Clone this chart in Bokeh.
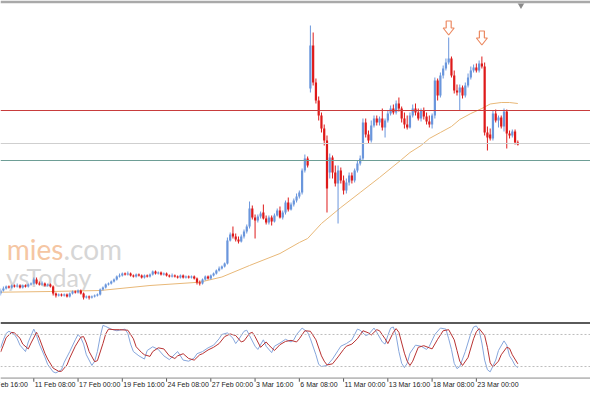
from bokeh.plotting import figure
from bokeh.models import Range1d, Span, ColumnDataSource
from bokeh.layouts import column
from bokeh.core.properties import value
from bokeh.embed import file_html
from bokeh.resources import INLINE

# ---------------- data (H4 candles, arbitrary price units) ----------------
open_ = [107,110,112,114,113,115,114,115,113,115,114,116,117,121,117,116,117,115,116,114,
         107,105,106,105,106,104,107,109,108,110,107,103,104,103,104,105,106,111,113,116,
         117,119,121,124,125,127,126,127,125,124,126,125,123,125,124,126,129,127,128,126,
         127,125,124,125,124,123,125,123,124,123,124,122,118,117,121,124,122,125,127,130,
         132,134,137,160,167,164,161,159,164,169,174,192,183,180,184,188,182,178,183,179,
         185,190,183,188,198,191,196,200,204,208,230,242,312,355,318,300,285,272,260,228,
         243,228,217,230,220,210,218,225,220,230,237,242,278,266,260,275,282,278,282,273,
         280,287,292,288,297,292,282,276,273,285,292,288,282,290,284,279,276,285,320,305,
         325,332,338,342,325,310,308,313,305,315,323,330,333,330,337,334,268,266,262,287,
         280,283,274,289,267,265,269,258]
high = [112,114,115,115,116,116,117,116,116,116,117,118,123,123,119,119,118,117,117,115,
        108,107,107,107,107,108,110,110,111,111,108,105,105,105,106,107,112,114,117,118,
        120,122,125,127,128,128,129,128,126,127,127,126,126,126,127,130,130,129,129,128,
        128,126,127,126,125,126,126,125,125,125,125,123,120,122,125,125,126,128,131,134,
        135,138,163,168,174,167,164,166,171,176,199,195,186,186,189,196,185,185,185,187,
        192,194,190,200,203,198,202,207,210,232,246,244,375,368,322,304,288,276,265,247,
        245,235,235,233,225,222,228,228,232,240,245,282,282,270,280,285,285,284,292,282,
        290,295,296,300,303,294,288,285,288,296,297,292,292,293,288,285,287,323,322,328,
        335,342,363,344,330,316,316,315,318,327,334,336,337,340,344,338,274,272,290,291,
        285,285,292,291,270,271,271,260]
low = [105,109,111,112,112,113,113,112,112,113,113,115,116,116,115,115,114,114,113,105,
       103,104,104,104,103,103,106,107,107,106,101,102,101,102,103,104,105,110,112,115,
       116,118,120,123,124,125,125,124,123,123,124,122,122,123,123,125,126,126,125,125,
       124,123,123,123,122,122,122,122,122,122,121,116,115,116,120,121,121,124,126,129,
       131,133,136,159,162,159,157,158,162,167,172,181,162,178,182,181,176,176,175,178,
       184,182,181,186,189,190,194,198,202,206,228,233,308,315,297,280,268,255,188,222,
       222,214,177,217,206,207,215,217,218,228,235,240,263,257,258,273,275,275,270,263,
       278,285,286,286,289,278,272,271,272,283,285,280,279,281,276,273,272,282,300,303,
       322,330,336,323,307,305,290,302,303,313,321,328,328,328,332,265,250,260,260,278,
       273,272,269,252,262,263,256,255]
close = [110,112,114,113,115,114,115,113,115,114,116,117,121,117,116,117,115,116,114,107,
         105,106,105,106,104,107,109,108,110,107,103,104,103,104,105,106,111,113,116,117,
         119,121,124,125,127,126,127,125,124,126,125,123,125,124,126,129,127,128,126,127,
         125,124,125,124,123,125,123,124,123,124,122,118,117,121,124,122,125,127,130,132,
         134,137,160,166,164,161,159,164,169,174,192,183,180,184,187,182,178,183,179,185,
         190,183,188,198,191,196,200,204,208,230,242,235,355,318,300,285,272,260,212,243,
         228,217,230,220,210,218,225,220,230,237,242,278,266,260,275,282,278,282,273,280,
         287,292,288,297,292,282,276,273,285,292,288,282,290,284,279,276,285,320,305,325,
         332,338,342,325,310,308,313,305,315,323,330,333,330,337,334,268,263,262,287,280,
         283,274,289,267,265,269,258,256]

# 100-period moving average, read at selected bars
ma_bar = [0, 18, 36, 54, 72, 80, 90, 101, 108, 111, 116, 123, 130, 137, 145, 148, 152,
          155, 159, 163, 166, 170, 174, 177, 181, 184, 187]
ma_val = [108.3, 109, 110, 115, 118.3, 123.5, 135, 147, 158, 162, 177, 193, 208, 223, 241,
          248, 255, 262, 268, 274, 281, 287, 292, 296.5, 298, 298, 297]

# horizontal levels
level_red = 290
level_gray = 257
level_teal = 240

# marked peaks (bar, arrow tip price)
arrow_bar = [162, 174]
arrow_tip = [365.5, 355.5]

# stochastic oscillator %K and %D
k_bar = [0,1,2,3,5,6,7,9,10,12,13,14,16,17,19,20,22,23,25,27,28,29,30,31,33,34,35,36,37,38,
         40,42,45,46,47,48,50,52,53,55,57,59,61,62,64,66,68,70,71,73,75,77,79,80,82,84,85,86,
         88,89,90,92,93,95,96,98,99,101,103,105,106,107,109,111,112,114,115,116,118,120,122,
         123,125,127,129,130,132,133,135,136,138,139,140,141,142,143,144,145,146,147,148,150,
         152,154,155,157,159,161,162,163,164,165,166,168,170,171,172,173,174,175,176,177,179,
         180,182,183,184,185,186,187]
k_val = [55,70,82,86,80,72,60,48,66,90,78,62,38,24,10,8,14,28,48,70,80,74,62,42,22,30,48,76,
         97,95,90,87,90,82,62,48,40,34,50,57,52,40,33,38,48,32,30,36,44,48,55,60,72,80,83,73,
         63,70,86,88,78,58,52,70,58,46,58,64,71,66,70,80,92,84,72,42,24,20,22,34,50,58,63,70,
         90,88,78,80,92,84,66,62,78,92,94,78,48,26,18,26,45,60,58,52,58,80,92,90,72,52,26,16,
         20,48,82,94,96,88,64,32,14,10,32,50,68,60,40,32,22,18]
d_bar = [0,1,2,4,5,7,8,10,11,13,14,16,17,19,21,22,24,25,27,29,30,31,32,34,35,37,38,39,41,43,
         46,48,49,51,52,54,55,57,59,61,63,64,66,68,70,72,73,75,77,79,81,83,85,87,88,90,91,92,
         94,96,97,99,101,103,105,107,108,110,112,114,116,117,118,120,122,124,125,127,129,131,
         133,134,136,137,139,140,142,143,144,146,147,148,149,151,153,155,156,158,160,162,164,
         165,166,167,169,171,172,173,175,176,177,178,180,181,183,184,185,187]
d_val = [47,60,74,84,83,73,62,53,64,84,73,45,34,17,11,11,23,36,58,75,76,64,48,29,31,63,81,90,
         89,89,88,72,57,46,42,39,48,55,53,40,35,40,44,35,32,42,44,51,56,63,76,81,78,66,68,82,
         84,76,56,66,60,50,61,67,69,66,72,87,86,70,40,30,23,25,38,52,58,62,72,87,83,79,89,87,
         72,63,84,91,84,45,30,22,30,56,59,55,53,71,87,89,70,50,30,22,37,72,85,91,78,56,27,19,
         30,42,56,54,42,25]
sto_levels = [80, 20]

# time axis
tick_bar = [-4, 12, 28, 44, 60, 76, 92, 108, 124, 140, 156, 172]
tick_text = ["6 Feb 16:00", "11 Feb 08:00", "17 Feb 00:00", "19 Feb 16:00", "24 Feb 08:00",
             "27 Feb 00:00", "3 Mar 16:00", "6 Mar 08:00", "11 Mar 00:00", "13 Mar 16:00",
             "18 Mar 08:00", "23 Mar 00:00"]

# ---------------- styling ----------------
BULL = "#6a96dc"
BEAR = "#de1a1a"
PX_X = 2.766            # pixels per bar
X0, X1 = -0.04, 213.27  # visible bar range

xr = Range1d(X0, X1)

p1 = figure(width=590, height=321, x_range=xr, y_range=Range1d(79, 397),
            toolbar_location=None, output_backend="svg",
            x_axis_location=None, y_axis_location=None,
            min_border_left=0, min_border_right=0, min_border_bottom=0, min_border_top=3,
            border_fill_color="#a9a9a9", background_fill_color="white",
            outline_line_color=None)
p1.grid.visible = False

# watermark
def bx(px):
    return px / PX_X + X0

p1.text(x=[bx(63)], y=[152], text=["mies"], text_font=value("Lato"), text_font_size="28px",
        text_color="#f5c6a3", text_align="right", text_baseline="alphabetic")
p1.text(x=[bx(63)], y=[152], text=[".com"], text_font=value("Lato"), text_font_size="28px",
        text_color="#d6d6d6", text_align="left", text_baseline="alphabetic")
p1.text(x=[bx(91)], y=[124], text=["ysToday"], text_font=value("Lato"), text_font_size="25px",
        text_color="#d6d6d6", text_align="right", text_baseline="alphabetic")

# levels
p1.add_layout(Span(location=level_gray, dimension="width", line_color="#cfcfcf", line_width=1))
p1.add_layout(Span(location=level_teal, dimension="width", line_color="#6e9e96", line_width=1))
p1.add_layout(Span(location=level_red, dimension="width", line_color="#c83c3c", line_width=1))

# moving average
p1.line(ma_bar, ma_val, line_color="#e8b878", line_width=1)

# candles
bars = list(range(len(close)))
colors = [BULL if c >= o else BEAR for o, c in zip(open_, close)]
src = ColumnDataSource(dict(
    x=bars, h=high, l=low,
    top=[max(o, c) for o, c in zip(open_, close)],
    bottom=[min(o, c) for o, c in zip(open_, close)],
    color=colors))
p1.segment(x0="x", y0="l", x1="x", y1="h", line_color="color", line_width=1, source=src)
p1.vbar(x="x", width=0.8, top="top", bottom="bottom", fill_color="color",
        line_color=None, source=src)

# arrows above peaks
shape = [(0, 0), (5.5, 7), (2.5, 7), (2.5, 14), (-2.5, 14), (-2.5, 7), (-5.5, 7)]
axs = [[b + dx / PX_X for dx, dy in shape] for b in arrow_bar]
ays = [[t + dy for dx, dy in shape] for t in arrow_tip]
p1.patches(axs, ays, fill_color="white", line_color="#ec8a62", line_width=1.2)

# chart-shift marker
p1.scatter([bx(520.5)], [395.5], marker="inverted_triangle", size=7,
           fill_color="#8a8a8a", line_color=None)

# ---------------- stochastic panel ----------------
p2 = figure(width=590, height=72, x_range=xr, y_range=Range1d(-30.5, 104.3),
            toolbar_location=None, output_backend="svg",
            x_axis_location=None, y_axis_location=None,
            min_border_left=0, min_border_right=0, min_border_bottom=0, min_border_top=0,
            border_fill_color="white", background_fill_color="white",
            outline_line_color=None)
p2.grid.visible = False

p2.add_layout(Span(location=101.6, dimension="width", line_color="#5a5a5a", line_width=2))
for lv in sto_levels:
    p2.add_layout(Span(location=lv, dimension="width", line_color="#bdbdbd",
                       line_dash="2 2", line_width=1))
p2.line(k_bar, k_val, line_color="#86a6dc", line_width=1)
p2.line(d_bar, d_val, line_color="#b83232", line_width=1)

p2.add_layout(Span(location=-1.6, dimension="width", line_color="#8a8a8a", line_width=1))
p2.segment(x0=tick_bar, y0=[-1.6] * len(tick_bar), x1=tick_bar, y1=[-8.5] * len(tick_bar),
           line_color="#555555", line_width=1)
p2.text(x=[t + 0.35 for t in tick_bar], y=[-14.5] * len(tick_bar), text=tick_text,
        text_font=value("Liberation Sans"), text_font_size="7px", text_color="#222222",
        text_align="left", text_baseline="middle")

layout = column(p1, p2, spacing=0)
open("out.html", "w").write(file_html(layout, INLINE))
